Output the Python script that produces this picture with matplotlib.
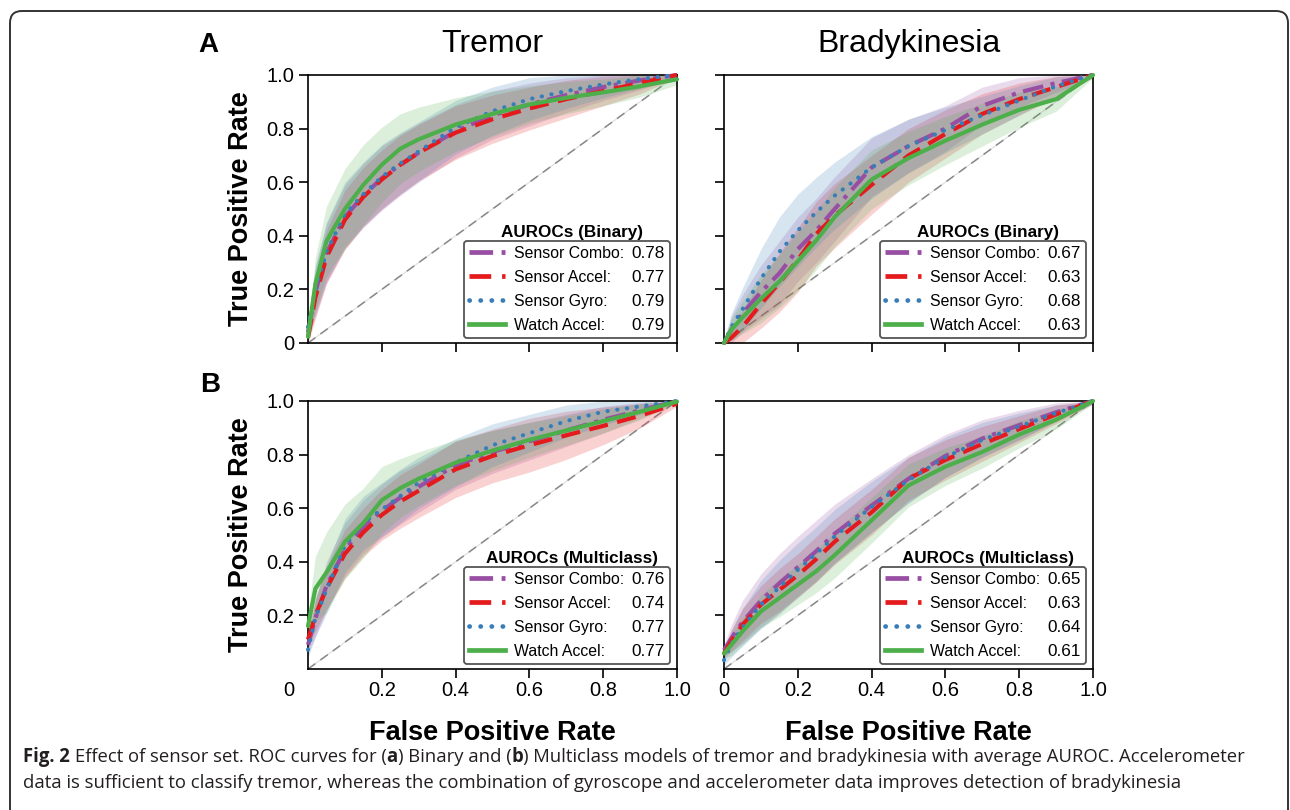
import matplotlib
matplotlib.use('Agg')
import matplotlib.pyplot as plt
from matplotlib.lines import Line2D
from matplotlib.patches import FancyBboxPatch
from matplotlib.transforms import IdentityTransform

# ---------------- data ----------------
fpr_grid = [0, 0.02, 0.05, 0.1, 0.15, 0.2, 0.25, 0.3, 0.4, 0.5, 0.6, 0.7, 0.8, 0.9, 1.0]
series_names = ["Sensor Combo", "Sensor Accel", "Sensor Gyro", "Watch Accel"]
series_colors = ['#984ea3', '#e41a1c', '#377eb8', '#4daf4a']

tremor_binary_tpr = {
    "Sensor Combo": [0.04, 0.19, 0.335, 0.47, 0.55, 0.615, 0.665, 0.71, 0.79, 0.85, 0.89, 0.925, 0.955, 0.98, 1.0],
    "Sensor Accel": [0.02, 0.17, 0.32, 0.46, 0.545, 0.61, 0.665, 0.71, 0.785, 0.835, 0.875, 0.91, 0.94, 0.97, 1.0],
    "Sensor Gyro":  [0.06, 0.20, 0.34, 0.48, 0.555, 0.62, 0.67, 0.715, 0.805, 0.865, 0.91, 0.94, 0.965, 0.985, 1.0],
    "Watch Accel":  [0.024, 0.22, 0.38, 0.50, 0.59, 0.665, 0.725, 0.76, 0.815, 0.855, 0.89, 0.915, 0.935, 0.958, 0.984],
}
tremor_binary_sd = {
    "Sensor Combo": [0.03, 0.09, 0.11, 0.12, 0.12, 0.12, 0.115, 0.11, 0.10, 0.09, 0.08, 0.065, 0.05, 0.035, 0.01],
    "Sensor Accel": [0.02, 0.08, 0.10, 0.11, 0.11, 0.11, 0.11, 0.105, 0.10, 0.09, 0.08, 0.07, 0.055, 0.04, 0.01],
    "Sensor Gyro":  [0.03, 0.09, 0.11, 0.12, 0.12, 0.12, 0.115, 0.11, 0.10, 0.09, 0.08, 0.065, 0.05, 0.035, 0.01],
    "Watch Accel":  [0.02, 0.10, 0.13, 0.15, 0.15, 0.14, 0.13, 0.12, 0.10, 0.085, 0.07, 0.06, 0.05, 0.04, 0.02],
}
tremor_binary_auc = [0.78, 0.77, 0.79, 0.79]

brady_binary_tpr = {
    "Sensor Combo": [0.0, 0.05, 0.11, 0.19, 0.26, 0.35, 0.42, 0.50, 0.655, 0.735, 0.80, 0.885, 0.935, 0.97, 1.0],
    "Sensor Accel": [0.0, 0.02, 0.06, 0.145, 0.225, 0.31, 0.407, 0.475, 0.59, 0.70, 0.78, 0.855, 0.91, 0.955, 1.0],
    "Sensor Gyro":  [0.0, 0.06, 0.125, 0.24, 0.34, 0.42, 0.488, 0.55, 0.655, 0.735, 0.795, 0.85, 0.905, 0.958, 1.0],
    "Watch Accel":  [0.0, 0.05, 0.095, 0.165, 0.23, 0.305, 0.383, 0.47, 0.61, 0.69, 0.755, 0.815, 0.87, 0.91, 1.0],
}
brady_binary_sd = {
    "Sensor Combo": [0.01, 0.05, 0.07, 0.10, 0.12, 0.12, 0.12, 0.12, 0.11, 0.10, 0.085, 0.07, 0.055, 0.035, 0.01],
    "Sensor Accel": [0.01, 0.04, 0.06, 0.09, 0.11, 0.12, 0.12, 0.12, 0.11, 0.10, 0.09, 0.075, 0.06, 0.04, 0.01],
    "Sensor Gyro":  [0.01, 0.05, 0.08, 0.11, 0.13, 0.135, 0.13, 0.125, 0.115, 0.10, 0.085, 0.07, 0.055, 0.035, 0.01],
    "Watch Accel":  [0.01, 0.04, 0.06, 0.09, 0.10, 0.11, 0.11, 0.11, 0.11, 0.10, 0.09, 0.08, 0.065, 0.045, 0.01],
}
brady_binary_auc = [0.67, 0.63, 0.68, 0.63]

tremor_multi_tpr = {
    "Sensor Combo": [0.09, 0.19, 0.31, 0.445, 0.53, 0.59, 0.64, 0.68, 0.76, 0.81, 0.85, 0.89, 0.93, 0.965, 1.0],
    "Sensor Accel": [0.11, 0.20, 0.30, 0.43, 0.51, 0.575, 0.625, 0.665, 0.745, 0.795, 0.835, 0.872, 0.907, 0.945, 0.99],
    "Sensor Gyro":  [0.072, 0.19, 0.296, 0.46, 0.545, 0.595, 0.645, 0.695, 0.77, 0.835, 0.88, 0.925, 0.96, 0.98, 1.0],
    "Watch Accel":  [0.16, 0.30, 0.36, 0.475, 0.545, 0.63, 0.675, 0.71, 0.77, 0.815, 0.855, 0.89, 0.925, 0.96, 0.998],
}
tremor_multi_sd = {
    "Sensor Combo": [0.03, 0.07, 0.09, 0.10, 0.10, 0.10, 0.10, 0.095, 0.09, 0.08, 0.07, 0.06, 0.05, 0.03, 0.005],
    "Sensor Accel": [0.03, 0.06, 0.08, 0.09, 0.09, 0.095, 0.10, 0.10, 0.105, 0.10, 0.10, 0.09, 0.07, 0.045, 0.01],
    "Sensor Gyro":  [0.03, 0.07, 0.09, 0.10, 0.10, 0.10, 0.10, 0.095, 0.09, 0.08, 0.07, 0.06, 0.05, 0.03, 0.005],
    "Watch Accel":  [0.05, 0.12, 0.15, 0.14, 0.13, 0.125, 0.11, 0.10, 0.085, 0.075, 0.065, 0.055, 0.045, 0.03, 0.005],
}
tremor_multi_auc = [0.76, 0.74, 0.77, 0.77]

brady_multi_tpr = {
    "Sensor Combo": [0.07, 0.115, 0.175, 0.255, 0.32, 0.38, 0.44, 0.505, 0.61, 0.71, 0.795, 0.86, 0.91, 0.958, 1.0],
    "Sensor Accel": [0.058, 0.105, 0.165, 0.24, 0.295, 0.35, 0.41, 0.475, 0.585, 0.71, 0.78, 0.84, 0.895, 0.95, 1.0],
    "Sensor Gyro":  [0.033, 0.095, 0.155, 0.24, 0.305, 0.37, 0.43, 0.495, 0.605, 0.705, 0.79, 0.855, 0.905, 0.955, 1.0],
    "Watch Accel":  [0.058, 0.09, 0.14, 0.215, 0.265, 0.315, 0.365, 0.425, 0.555, 0.685, 0.755, 0.81, 0.875, 0.93, 1.0],
}
brady_multi_sd = {
    "Sensor Combo": [0.02, 0.05, 0.08, 0.10, 0.11, 0.115, 0.115, 0.11, 0.10, 0.09, 0.08, 0.07, 0.055, 0.035, 0.01],
    "Sensor Accel": [0.02, 0.04, 0.06, 0.07, 0.08, 0.08, 0.085, 0.085, 0.085, 0.08, 0.075, 0.065, 0.05, 0.035, 0.01],
    "Sensor Gyro":  [0.02, 0.05, 0.07, 0.09, 0.10, 0.10, 0.10, 0.10, 0.095, 0.085, 0.075, 0.065, 0.05, 0.03, 0.01],
    "Watch Accel":  [0.02, 0.04, 0.05, 0.06, 0.07, 0.075, 0.08, 0.085, 0.085, 0.08, 0.07, 0.06, 0.05, 0.035, 0.01],
}
brady_multi_auc = [0.65, 0.63, 0.64, 0.61]

tick_values = [0.2, 0.4, 0.6, 0.8, 1.0]
tick_labels = ["0.2", "0.4", "0.6", "0.8", "1.0"]

caption_line1 = [("Fig. 2", True, False), ("Effect of sensor set. ROC curves for (", False, True),
                 ("a", True, False), (") Binary and (", False, False), ("b", True, False),
                 (") Multiclass models of tremor and bradykinesia with average AUROC. Accelerometer", False, False)]
caption_line2 = [("data is sufficient to classify tremor, whereas the combination of gyroscope and accelerometer data improves detection of bradykinesia", False, False)]

# ---------------- figure ----------------
W, H = 1290, 810
plt.rcParams['font.family'] = ['Liberation Sans', 'DejaVu Sans']
fig = plt.figure(figsize=(W / 100, H / 100), dpi=100)
fig.patch.set_facecolor('white')


def px_axes(left, top, right, bottom):
    return fig.add_axes([left / W, 1 - bottom / H, (right - left) / W, (bottom - top) / H])


ax_tl = px_axes(308, 75, 677, 343)
ax_tr = px_axes(724, 75, 1093, 343)
ax_bl = px_axes(308, 401, 677, 669)
ax_br = px_axes(724, 401, 1093, 669)

line_styles = [(0, (5.0, 1.8, 1.0, 1.8)), (0, (4.6, 2.3)), (0, (0.05, 2.3)), '-']
cap_styles = ['butt', 'butt', 'round', 'butt']

panels = [
    (ax_tl, tremor_binary_tpr, tremor_binary_sd, tremor_binary_auc, "AUROCs (Binary)"),
    (ax_tr, brady_binary_tpr, brady_binary_sd, brady_binary_auc, "AUROCs (Binary)"),
    (ax_bl, tremor_multi_tpr, tremor_multi_sd, tremor_multi_auc, "AUROCs (Multiclass)"),
    (ax_br, brady_multi_tpr, brady_multi_sd, brady_multi_auc, "AUROCs (Multiclass)"),
]

LEG_FS = 12.3
NAME_FS = 11.4
legends = []
for ax, tpr, sd, aucs, ltitle in panels:
    ax.plot([0, 1], [0, 1], color='#dddddd', lw=0.8, zorder=1)
    ax.plot([0, 1], [0, 1], color='#888888', lw=1.1, linestyle=(0, (6, 4)), zorder=1)
    for name, col in zip(series_names, series_colors):
        lo = [max(0.0, m - s) for m, s in zip(tpr[name], sd[name])]
        hi = [min(1.0, m + s) for m, s in zip(tpr[name], sd[name])]
        ax.fill_between(fpr_grid, lo, hi, color=col, alpha=0.2, lw=0, zorder=2)
    for name, col, ls, cs in zip(series_names, series_colors, line_styles, cap_styles):
        ax.plot(fpr_grid, tpr[name], color=col, lw=3.0, linestyle=ls, dash_capstyle=cs,
                solid_capstyle='round', clip_on=False, zorder=3)
    ax.set_xlim(0, 1)
    ax.set_ylim(0, 1)
    for sp in ax.spines.values():
        sp.set_linewidth(1.2)
    ax.tick_params(axis='both', direction='out', length=6.5, width=1.2, labelsize=14.5, colors='black')
    ax.tick_params(axis='x', pad=2.5)
    ax.tick_params(axis='y', pad=3.5)

    handles = [Line2D([], [], color=c, lw=3.4, linestyle=ls, dash_capstyle=cs)
               for c, ls, cs in zip(series_colors, line_styles, cap_styles)]
    blanks = [Line2D([], [], linestyle='none') for _ in series_names]
    labels = [f"{n}:" for n in series_names] + [f"{v:.2f}" for v in aucs]
    leg = ax.legend(handles + blanks, labels, ncol=2, loc='lower right',
                    bbox_to_anchor=(1 - 7 / 369, 5 / 268), borderaxespad=0, fontsize=LEG_FS,
                    handlelength=2.1, handletextpad=0.53, columnspacing=-2.2,
                    labelspacing=0.53, borderpad=0.3, fancybox=True, framealpha=1,
                    edgecolor='#555555')
    for t in leg.get_texts()[:4]:
        t.set_fontsize(NAME_FS)
    leg.get_frame().set_linewidth(1.3)
    legends.append((leg, ltitle))

# ticks
ax_tl.set_xticks(tick_values)
ax_tl.set_xticklabels([])
ax_tl.set_yticks([0] + tick_values)
ax_tl.set_yticklabels(["0"] + tick_labels)
ax_tr.set_xticks(tick_values)
ax_tr.set_xticklabels([])
ax_tr.set_yticks([0] + tick_values)
ax_tr.set_yticklabels([])
ax_bl.set_xticks(tick_values)
ax_bl.set_xticklabels(tick_labels)
ax_bl.set_yticks(tick_values)
ax_bl.set_yticklabels(tick_labels)
ax_br.set_xticks([0] + tick_values)
ax_br.set_xticklabels(["0"] + tick_labels)
ax_br.set_yticks(tick_values)
ax_br.set_yticklabels([])

# titles, panel letters, axis labels
fig.text(492.5 / W, 1 - 52 / H, "Tremor", fontsize=23, ha='center', va='baseline')
fig.text(908.5 / W, 1 - 52 / H, "Bradykinesia", fontsize=23, ha='center', va='baseline')
fig.text(198 / W, 1 - 52 / H, "A", fontsize=20, fontweight='bold', ha='left', va='baseline')
fig.text(200 / W, 1 - 392 / H, "B", fontsize=20, fontweight='bold', ha='left', va='baseline')
for yc in (209, 535):
    fig.text(248 / W, 1 - yc / H, "True Positive Rate", fontsize=19.5, fontweight='bold',
             rotation=90, rotation_mode='anchor', ha='center', va='baseline')
for xc in (492.5, 908.5):
    fig.text(xc / W, 1 - 740 / H, "False Positive Rate", fontsize=19.5, fontweight='bold',
             ha='center', va='baseline')

fig.canvas.draw()
renderer = fig.canvas.get_renderer()

# shifted "0" in bottom-left panel
ref_lab = ax_bl.get_xticklabels()[0].get_window_extent(renderer)
fig.text(294 / W, ref_lab.y1 / H, "0", fontsize=14.5, ha='right', va='top')

# legend titles above frames
for leg, ltitle in legends:
    bb = leg.get_frame().get_window_extent(renderer)
    fig.text(((bb.x0 + bb.x1) / 2 + 5) / W, (bb.y1 + 4) / H, ltitle, fontsize=12.3,
             fontweight='bold', ha='center', va='baseline')

# outer rounded border
border = FancyBboxPatch((10, -30), 1278, H - 11 + 30, boxstyle='round,pad=0,rounding_size=12',
                        transform=IdentityTransform(), fill=False, ec='#333333', lw=1.4)
fig.add_artist(border)

# caption
cap_family = ['Open Sans', 'DejaVu Sans']
cap_color = '#231f20'


def seg_width(txt, bold, fs):
    t = fig.text(0, 0, txt, fontsize=fs, fontweight='bold' if bold else 'normal', family=cap_family)
    w = t.get_window_extent(renderer).width
    t.remove()
    return w


def space_width(bold, fs):
    return seg_width("x x", bold, fs) - seg_width("xx", bold, fs)


def line_width(segs, fs):
    tot = 0
    for txt, bold, sp in segs:
        if sp:
            tot += space_width(False, fs)
        tot += seg_width(txt, bold, fs)
    return tot


base_fs = 11.0
w1 = line_width(caption_line1, base_fs)
cap_fs = base_fs * (1250 - 23) / w1


def draw_line(segs, x0, ybase, fs):
    x = x0
    for txt, bold, sp in segs:
        if sp:
            x += space_width(False, fs)
        t = fig.text(x / W, ybase / H, txt, fontsize=fs, fontweight='bold' if bold else 'normal',
                     family=cap_family, ha='left', va='baseline', color=cap_color)
        x += t.get_window_extent(renderer).width


draw_line(caption_line1, 23, H - 762, cap_fs)
draw_line(caption_line2, 23, H - 788, cap_fs)

fig.savefig("out.png", dpi=100, facecolor='white')
